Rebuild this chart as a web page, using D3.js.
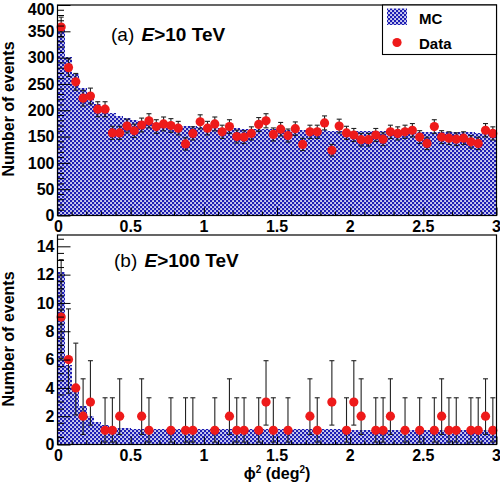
<!DOCTYPE html>
<html><head><meta charset="utf-8">
<script src="https://cdn.jsdelivr.net/npm/d3@7"></script>
<style>body{margin:0;background:#fff}svg{display:block;font-family:"Liberation Sans",Arial,sans-serif}</style>
</head><body><svg id="c" width="500" height="482"></svg>
<script>
// ---- data ----
const binWidth = 0.05;
const nBins = 60;
const xTicks = [0, 0.5, 1, 1.5, 2, 2.5, 3];
const xTickLabels = ["0", "0.5", "1", "1.5", "2", "2.5", "3"];
const yTicksTop = [0, 50, 100, 150, 200, 250, 300, 350, 400];
const yTicksBottom = [0, 2, 4, 6, 8, 10, 12, 14];

// panel (a) E>10 TeV
const dataTop = [358,281,254,223,227,202,202,157,157,170,161,172,180,169,174,171,166,136,156,178,
                 166,174,159,169,150,149,156,173,180,154,164,152,165,135,159,159,176,124,170,157,
                 153,144,144,153,145,159,156,159,162,149,137,169,149,147,145,147,140,137,162,156];
const mcTop = [355,302,268,243,226,212,202,195,189,185,182,179,177,176,174,173,172,171,170,169,
               168,167,167,166,166,165,165,164,164,164,163,163,163,162,162,162,162,161,161,161,
               161,160,160,160,160,160,159,159,159,159,159,158,158,158,158,158,158,157,157,157];

// panel (b) E>100 TeV
const dataBottom = [9,6,4,2,3,0,1,1,2,0,0,2,1,0,0,1,0,1,1,0,
                    0,1,0,2,1,1,0,1,3,1,0,1,0,0,2,1,0,3,0,1,
                    3,2,0,1,1,2,0,1,0,1,0,1,2,1,1,0,1,1,2,1];
const mcBottom = [12.2,5.6,3.9,2.7,2.0,1.6,1.35,1.25,1.2,1.15,1.12,1.12,1.1,1.1,1.1,1.1,1.1,1.1,1.1,1.1,
                  1.08,1.08,1.08,1.08,1.08,1.08,1.08,1.08,1.08,1.08,1.06,1.06,1.06,1.06,1.06,1.06,1.06,1.06,1.06,1.06,
                  1.05,1.05,1.05,1.05,1.05,1.05,1.05,1.05,1.05,1.05,1.04,1.04,1.04,1.04,1.04,1.04,1.04,1.04,1.04,1.04];
// Poisson (Garwood) 68% intervals: count -> [low, high]
const poissonCounts = [1, 2, 3, 4, 6, 9];
const poissonLow  = [0.17, 0.71, 1.37, 2.09, 3.62, 6.08];
const poissonHigh = [3.30, 4.64, 5.92, 7.16, 9.58, 13.06];

// ---- drawing ----
const svg = d3.select("#c");
const defs = svg.append("defs");
const pat = defs.append("pattern").attr("id","mc").attr("width",4).attr("height",4)
  .attr("patternUnits","userSpaceOnUse");
pat.append("rect").attr("width",4).attr("height",4).attr("fill","#1e1eb4");
pat.append("rect").attr("x",0.2).attr("y",0.2).attr("width",1.7).attr("height",1.7).attr("fill","#ffffff");
pat.append("rect").attr("x",2.2).attr("y",2.2).attr("width",1.7).attr("height",1.7).attr("fill","#ffffff");

const x = d3.scaleLinear().domain([0,3]).range([57.5,496.5]);
const bins = d3.range(nBins);

function panel(cfg){
  const g = svg.append("g");
  const y = cfg.y;
  // MC histogram
  g.append("g").selectAll("rect").data(bins).join("rect")
    .attr("x", i => x(i*binWidth))
    .attr("width", i => x((i+1)*binWidth) - x(i*binWidth))
    .attr("y", i => y(cfg.mc[i]))
    .attr("height", i => y(0) - y(cfg.mc[i]))
    .attr("fill","url(#mc)").attr("shape-rendering","crispEdges");
  // error bars
  const pts = bins.filter(i => cfg.data[i] > 0);
  const eb = g.append("g").attr("stroke","#222").attr("stroke-width",1.1);
  pts.forEach(i => {
    const cx = x((i+0.5)*binWidth);
    const [lo, hi] = cfg.err(cfg.data[i]);
    eb.append("line").attr("x1",cx).attr("x2",cx).attr("y1",y(lo)).attr("y2",y(hi));
    eb.append("line").attr("x1",cx-2.5).attr("x2",cx+2.5).attr("y1",y(hi)).attr("y2",y(hi));
    eb.append("line").attr("x1",cx-2.5).attr("x2",cx+2.5).attr("y1",y(lo)).attr("y2",y(lo));
  });
  // markers
  g.append("g").selectAll("circle").data(pts).join("circle")
    .attr("cx", i => x((i+0.5)*binWidth)).attr("cy", i => y(cfg.data[i]))
    .attr("r",4.6).attr("fill","#ee1a1a");
  // frame
  const [y0, y1] = y.range();
  g.append("rect").attr("x",x(0)).attr("y",y1).attr("width",x(3)-x(0)).attr("height",y0-y1)
    .attr("fill","none").attr("stroke","#000").attr("stroke-width",1.2);
  // y axis ticks (inward)
  const yAxis = d3.axisRight(y).tickValues(cfg.yTicks).tickSize(13).tickFormat("");
  const ya = g.append("g").attr("transform",`translate(${x(0)},0)`).call(yAxis);
  ya.select(".domain").remove();
  const yMinor = d3.range(0, y.domain()[1]+1e-9, cfg.yMinorStep).filter(v => !cfg.yTicks.includes(+v.toFixed(6)));
  g.append("g").attr("stroke","#000").selectAll("line").data(yMinor).join("line")
    .attr("x1",x(0)).attr("x2",x(0)+6.5).attr("y1",d=>y(d)).attr("y2",d=>y(d));
  // x axis ticks (inward)
  const xa = g.append("g").attr("transform",`translate(0,${y0})`)
    .call(d3.axisTop(x).tickValues(xTicks).tickSize(8).tickFormat(""));
  xa.select(".domain").remove();
  const xMinor = d3.range(0, 3.0001, 0.1).filter(v => Math.abs(v*2 - Math.round(v*2)) > 1e-6);
  g.append("g").attr("stroke","#000").selectAll("line").data(xMinor).join("line")
    .attr("x1",d=>x(d)).attr("x2",d=>x(d)).attr("y1",y0).attr("y2",y0-4);
  // tick labels
  g.append("g").attr("font-size",16).attr("font-weight","bold").attr("text-anchor","end")
    .selectAll("text").data(cfg.yTicks).join("text")
    .attr("x",54.5).attr("y",d=>Math.max(y(d), 9)).attr("dy","0.36em").text(d=>d);
  g.append("g").attr("font-size",16).attr("font-weight","bold").attr("text-anchor","middle")
    .selectAll("text").data(xTicks).join("text")
    .attr("x",(d)=>x(d)+(d===0?1:0)).attr("y",y0+16).text((d,i)=>xTickLabels[i]);
  // y title
  g.append("text").attr("transform",`translate(14,${cfg.ytitleY}) rotate(-90)`)
    .attr("text-anchor","middle").attr("font-size",16).attr("font-weight","bold").text("Number of events");
  // panel label
  const t = g.append("text").attr("x",cfg.labelX).attr("y",cfg.labelY).attr("font-size",19);
  t.append("tspan").text(cfg.label[0] + " ");
  t.append("tspan").attr("font-weight","bold").attr("font-style","italic").attr("dx",2).text("E");
  t.append("tspan").attr("font-weight","bold").text(cfg.label[1]);
}

panel({
  y: d3.scaleLinear().domain([0,400]).range([215.5,5]),
  mc: mcTop, data: dataTop, yTicks: yTicksTop, yMinorStep: 10,
  err: n => [n - Math.sqrt(n), n + Math.sqrt(n)],
  ytitleY: 109, label: ["(a)", ">10 TeV"], labelX: 111, labelY: 41
});
panel({
  y: d3.scaleLinear().domain([0,14.8]).range([444.5,235]),
  mc: mcBottom, data: dataBottom, yTicks: yTicksBottom, yMinorStep: 0.5,
  err: n => { const k = poissonCounts.indexOf(n); return [poissonLow[k], poissonHigh[k]]; },
  ytitleY: 339, label: ["(b)", ">100 TeV"], labelX: 114, labelY: 267
});

// x axis title
const xt = svg.append("text").attr("x",277).attr("y",479).attr("text-anchor","middle")
  .attr("font-size",16).attr("font-weight","bold");
xt.append("tspan").text("ϕ");
xt.append("tspan").attr("font-size",10).attr("dy",-6).text("2");
xt.append("tspan").attr("dy",6).text(" (deg");
xt.append("tspan").attr("font-size",10).attr("dy",-6).text("2");
xt.append("tspan").attr("dy",6).text(")");

// legend
const lg = svg.append("g");
lg.append("rect").attr("x",382.5).attr("y",5).attr("width",114).attr("height",49.5)
  .attr("fill","#fff").attr("stroke","#000").attr("stroke-width",1.1);
lg.append("rect").attr("x",387).attr("y",8.5).attr("width",20).attr("height",16.5).attr("fill","url(#mc)");
lg.append("circle").attr("cx",397).attr("cy",42.5).attr("r",4.6).attr("fill","#ee1a1a");
lg.append("text").attr("x",419).attr("y",23.5).attr("font-size",15).attr("font-weight","bold").text("MC");
lg.append("text").attr("x",419).attr("y",48.5).attr("font-size",15).attr("font-weight","bold").text("Data");
</script></body></html>
